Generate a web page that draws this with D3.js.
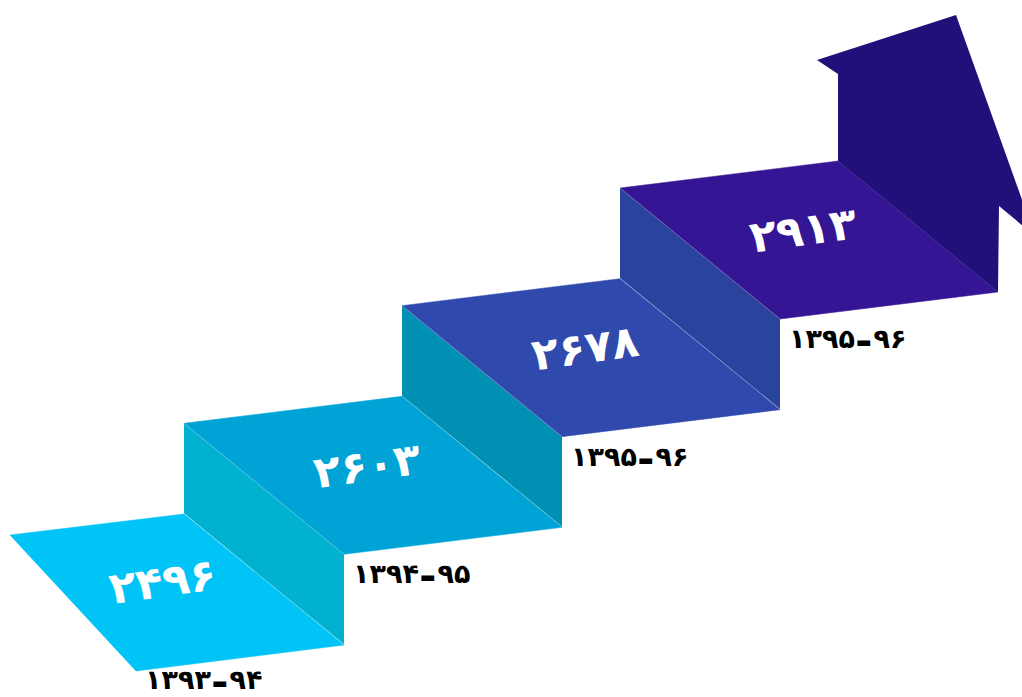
<!DOCTYPE html>
<html>
<head>
<meta charset="utf-8">
<script src="https://cdn.jsdelivr.net/npm/d3@7"></script>
<style>
  html, body { margin: 0; padding: 0; background: #fff; overflow: hidden; }
  svg { display: block; }
</style>
</head>
<body>
<svg></svg>
<script>
let w = 1022;
let h = 697;

// data
const yearFrom = ['۱۳۹۳', '۱۳۹۴', '۱۳۹۵', '۱۳۹۵'];
const yearTo = ['۹۴', '۹۵', '۹۶', '۹۶'];
const values = ['۲۴۹۶', '۲۶۰۳', '۲۶۷۸', '۲۹۱۳'];
const topColors = ['#00c3f6', '#00a3d5', '#3049ad', '#341594'];
const riserColors = [null, '#00b2cf', '#0090b4', '#2a449e'];
const arrowColor = '#21107a';

const svg = d3.select('svg')
  .attr('width', w)
  .attr('height', h)

// scales: step index -> front right corner of each tread
const xScale = d3.scaleLinear().domain([0, values.length - 1]).range([344, 998])
const yScale = d3.scaleLinear().domain([0, values.length - 1]).range([645, 292])

// geometry of one step
const width = [-218, 27]   // front edge, right -> left
const depth = [-160, -131] // front -> back
const rise = 90

const pt = (p, v, k = 1) => [p[0] + v[0] * k, p[1] + v[1] * k]

const steps = values.map((v, i) => {
  const F = [xScale(i), yScale(i)]
  let FL = pt(F, width)
  let BL = pt(FL, depth)
  const BR = pt(F, depth)
  if (i === 0) {
    // first tread flares out to the left
    FL = pt(F, [-208, 26])
    BL = pt(FL, [-126, -136])
  }
  const c = [(F[0] + FL[0] + BL[0] + BR[0]) / 4, (F[1] + FL[1] + BL[1] + BR[1]) / 4]
  return { i, v, F, FL, BL, BR, c }
})

const line = d3.line()

// risers
svg.append('g').selectAll('path')
  .data(steps.filter(d => d.i > 0))
  .enter()
  .append('path')
  .attr('d', d => line([d.BL, d.FL, pt(d.FL, [0, rise]), pt(d.BL, [0, rise])]) + 'Z')
  .attr('fill', d => riserColors[d.i])

// treads
svg.append('g').selectAll('path')
  .data(steps)
  .enter()
  .append('path')
  .attr('d', d => line([d.BL, d.BR, d.F, d.FL]) + 'Z')
  .attr('fill', d => topColors[d.i])
  .attr('stroke', d => topColors[d.i])
  .attr('stroke-width', 0.5)

// thin highlight along the inner corner
svg.append('g').selectAll('line')
  .data(steps.filter(d => d.i > 0))
  .enter()
  .append('line')
  .attr('x1', d => d.BL[0]).attr('y1', d => d.BL[1])
  .attr('x2', d => d.FL[0]).attr('y2', d => d.FL[1])
  .attr('stroke', 'rgba(255,255,255,0.35)')
  .attr('stroke-width', 0.7)

// arrow rising from the last step
const last = steps[steps.length - 1]
const b = last.BR
const arrow = [
  last.F,
  b,
  pt(b, [0, -87]),
  pt(b, [-21, -101]),
  pt(b, [118, -146]),
  pt(b, [197, 75]),
  pt(last.F, [1, -86])
]
svg.append('path')
  .attr('d', line(arrow) + 'Z')
  .attr('fill', arrowColor)

// values on treads
const angle = -8
svg.append('g').selectAll('text')
  .data(steps)
  .enter()
  .append('text')
  .attr('transform', d => `translate(${d.c[0] - 6},${d.c[1] - 10}) rotate(${angle})`)
  .attr('text-anchor', 'middle')
  .attr('dominant-baseline', 'central')
  .attr('fill', '#fff')
  .attr('font-family', 'DejaVu Sans')
  .attr('font-weight', 'bold')
  .attr('font-size', 44)
  .attr('letter-spacing', 2)
  .text(d => d.v)

// year labels under each front edge
const labels = svg.append('g').selectAll('text')
  .data(steps)
  .enter()
  .append('text')
  .attr('x', d => d.FL[0] + 9)
  .attr('y', d => Math.min(d.FL[1] + 29, h - 8))
  .attr('direction', 'ltr')
  .style('unicode-bidi', 'bidi-override')
  .attr('fill', '#000')
  .attr('font-family', 'DejaVu Sans')
  .attr('font-weight', 'bold')
  .attr('font-size', 27)

labels.append('tspan').text((d, i) => yearFrom[i])
labels.append('tspan')
  .attr('dx', 2).attr('dy', 3)
  .attr('stroke', '#000').attr('stroke-width', 2.2)
  .text('–')
labels.append('tspan').attr('dx', 3).attr('dy', -3).text((d, i) => yearTo[i])
</script>
</body>
</html>
